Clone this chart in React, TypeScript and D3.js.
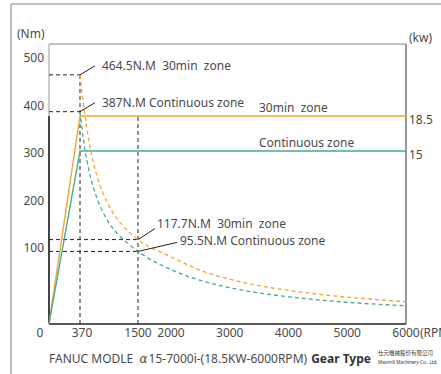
import React from "react";
import * as d3 from "d3";

const rpmTicks = [0, 370, 1500, 2000, 3000, 4000, 5000, 6000];
const torqueTicks = [100, 200, 300, 400, 500];
const kwTicks = [15, 18.5];

const curveRpm = [370, 450, 550, 700, 900, 1100, 1300, 1500, 2000, 2500, 3000, 3500, 4000, 4500, 5000, 5500, 6000];
const torque30 = [464.5, 392, 321, 252, 196, 160.5, 136, 117.7, 88.3, 70.7, 58.9, 50.5, 44.2, 39.3, 35.3, 32.1, 29.4];
const torqueCont = [387, 318, 260, 205, 159, 130, 110, 95.5, 71.6, 57.3, 47.7, 40.9, 35.8, 31.8, 28.6, 26, 23.9];

const powerRpm = [0, 370, 6000];
const power30 = [0, 18.5, 18.5];
const powerCont = [0, 15, 15];

const ORANGE = "#f5a52b";
const TEAL = "#45ab93";
const TXT = "#4a4a4a";
const FONT = "'Noto Sans', 'Open Sans', sans-serif";

export default function App() {
  const left = 49, right = 406, top = 44, bottom = 324;
  const x = d3.scaleLinear().domain([0, 370, 1500, 2000, 6000]).range([left, 80, 138, 171, right]);
  const y = d3.scaleLinear().domain([0, 100, 500]).range([bottom, 248, 58]);
  const yKw = d3.scaleLinear().domain([0, 15, 18.5]).range([bottom, 151, 116]);

  const torqueLine = (vals: number[]) =>
    d3.line<number>().x((_, i) => x(curveRpm[i])).y((v) => y(v)).curve(d3.curveMonotoneX)(vals) || "";
  const powerLine = (vals: number[]) =>
    d3.line<number>().x((_, i) => x(powerRpm[i])).y((v) => yKw(v))(vals) || "";

  const dash = "4,3";
  const marks = [
    { rpm: 370, t: 464.5, label: "464.5N.M  30min  zone", dx: 15, dy: -9, tx: 22, ty: -5 },
    { rpm: 370, t: 387, label: "387N.M Continuous zone", dx: 15, dy: -9, tx: 22, ty: -5 },
    { rpm: 1500, t: 117.7, label: "117.7N.M  30min  zone", dx: 17, dy: -11, tx: 19, ty: -12 },
    { rpm: 1500, t: 95.5, label: "95.5N.M Continuous zone", dx: 39, dy: -9, tx: 42, ty: -6 },
  ];

  const pre = { whiteSpace: "pre" as const };

  return (
    <svg width={441} height={374} style={{ position: "absolute", left: 0, top: 0, background: "#fff" }} fontFamily={FONT}>
      {/* outer frame */}
      <line x1={11} y1={4} x2={441} y2={4} stroke="#a3abb1" strokeWidth={1.5} />
      <line x1={11} y1={4} x2={11} y2={374} stroke="#a3abb1" strokeWidth={1.5} />

      {/* plot frame */}
      <line x1={left} y1={top} x2={right} y2={top} stroke="#888" strokeWidth={1} />
      <line x1={right} y1={top} x2={right} y2={bottom} stroke="#777" strokeWidth={1.5} />
      <line x1={left} y1={top} x2={left} y2={bottom} stroke="#999" strokeWidth={1} />
      <line x1={left} y1={yKw(18.5)} x2={left} y2={bottom} stroke="#222" strokeWidth={1.6} />
      <line x1={left} y1={bottom} x2={right} y2={bottom} stroke="#222" strokeWidth={1.6} />

      {/* black dashed guides */}
      <g stroke="#222" strokeWidth={1} strokeDasharray={dash} fill="none">
        <line x1={x(370)} y1={bottom} x2={x(370)} y2={y(464.5)} />
        <line x1={x(1500)} y1={bottom} x2={x(1500)} y2={yKw(18.5)} />
        {marks.map((m, i) => (
          <line key={i} x1={left} y1={y(m.t)} x2={x(m.rpm)} y2={y(m.t)} />
        ))}
      </g>

      {/* power lines */}
      <path d={powerLine(power30)} fill="none" stroke={ORANGE} strokeWidth={1.4} />
      <path d={powerLine(powerCont)} fill="none" stroke={TEAL} strokeWidth={1.4} />

      {/* torque dashed curves */}
      <path d={torqueLine(torque30)} fill="none" stroke={ORANGE} strokeWidth={1.3} strokeDasharray={dash} />
      <path d={torqueLine(torqueCont)} fill="none" stroke={TEAL} strokeWidth={1.3} strokeDasharray={dash} />

      {/* annotations */}
      {marks.map((m, i) => {
        const px = x(m.rpm), py = y(m.t);
        return (
          <g key={i}>
            <line x1={px} y1={py} x2={px + m.dx} y2={py + m.dy} stroke="#222" strokeWidth={1} />
            <text x={px + m.tx} y={py + m.ty} fontSize={12} fill={TXT} style={pre}>{m.label}</text>
          </g>
        );
      })}
      <text x={259} y={yKw(18.5) - 4} fontSize={12} fill={TXT} style={pre}>30min  zone</text>
      <text x={259} y={yKw(15) - 4} fontSize={12} fill={TXT}>Continuous zone</text>

      {/* left axis labels */}
      <text x={17} y={38} fontSize={12} fill={TXT}>(Nm)</text>
      {torqueTicks.map((t) => (
        <text key={t} x={44} y={y(t) + 4} fontSize={12} fill={TXT} textAnchor="end">{t}</text>
      ))}

      {/* right axis labels */}
      <text x={409} y={42} fontSize={12} fill={TXT}>(kw)</text>
      {kwTicks.map((k) => (
        <text key={k} x={409} y={yKw(k) + 8} fontSize={12} fill={TXT}>{k}</text>
      ))}

      {/* bottom axis labels */}
      {rpmTicks.map((r) => (
        <text key={r} x={r === 0 ? 40 : x(r) + (r === 370 ? 2 : 0)} y={337} fontSize={12} fill={TXT} textAnchor="middle">{r}</text>
      ))}
      <text x={420} y={337} fontSize={12} fill={TXT}>(RPM)</text>

      {/* title */}
      <text x={49} y={363} fontSize={12} fill={TXT} style={pre}>
        {"FANUC MODLE  "}
        <tspan fontStyle="italic" fontFamily="'DejaVu Serif', serif">α</tspan>
        <tspan dx={1}>15-7000i-(18.5KW-6000RPM)</tspan>
        <tspan fontWeight="bold" fill="#333" dx={4}>Gear Type</tspan>
      </text>
      <text x={378} y={355} fontSize={5.5} fill="#333" fontFamily="'Noto Sans CJK TC', sans-serif">仕元機械股份有限公司</text>
      <text x={378} y={364} fontSize={4.6} fill="#333">Maxmill Machinery Co., Ltd.</text>
    </svg>
  );
}
